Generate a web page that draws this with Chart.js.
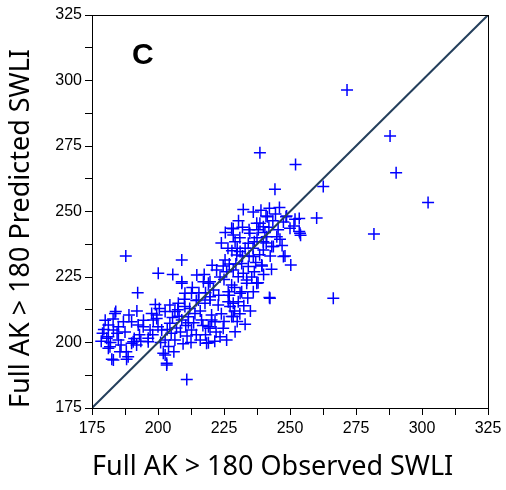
<!DOCTYPE html>
<html>
<head>
<meta charset="utf-8">
<script src="https://cdn.jsdelivr.net/npm/chart.js@4"></script>
<style>
    body { margin: 0; background: #fff; }
</style>
</head>
<body>
<canvas id="swliChart" width="506" height="490"></canvas>
<script>
    // observed / predicted SWLI pairs
    const observed = [
        187.8, 192.3, 184.0, 183.7, 181.2, 183.1, 186.9, 190.0, 192.5, 181.2,
        185.0, 181.8, 185.6, 182.5, 188.7, 190.0, 191.9, 180.6, 181.2, 183.1,
        188.1, 190.6, 194.4, 179.5, 180.0, 184.5, 186.0, 183.0, 187.5, 189.0,
        193.0, 191.0, 178.5, 179.0, 185.0, 182.0, 188.0, 193.5, 194.5, 192.0,
        196.3, 197.0, 198.2, 199.5, 202.7, 206.4, 204.5, 201.4, 202.7, 202.0,
        203.3, 210.9, 206.4, 209.0, 211.5, 214.0, 212.7, 210.2, 207.7, 212.7,
        210.2, 209.0, 200.1, 205.6, 209.0, 214.7, 196.3, 202.7, 203.3, 199.5,
        204.5, 209.0, 197.6,
        198.0, 200.0, 203.5, 205.0, 207.0, 208.0, 210.5, 211.0, 213.5, 214.5,
        200.5, 205.5, 207.5, 212.0, 214.5, 201.0, 204.0, 209.5, 212.5, 206.0,
        199.0, 210.0, 213.0, 208.5, 211.5,
        217.2, 219.7, 218.4, 216.5, 219.1, 217.8, 215.3, 219.7, 220.3, 228.5,
        229.2, 234.2, 225.4, 222.2, 229.8, 231.7, 234.2, 230.4, 233.6, 227.9,
        226.6, 231.7, 230.4, 226.6, 219.1, 219.7, 222.8, 227.3, 227.9, 220.3,
        221.6, 224.7, 219.7, 229.2, 223.5, 219.1, 227.9, 232.3, 228.5, 231.1,
        228.5, 232.3, 233.6, 231.1, 228.5, 228.5, 224.7,
        225.0, 226.0, 227.0, 228.0, 229.5, 230.0, 231.0, 232.0, 233.0, 234.5,
        226.5, 224.0, 225.5, 227.0, 229.0, 230.0, 231.0, 232.5, 234.0, 224.0,
        223.0, 221.0, 216.0, 218.0, 217.0, 222.0, 225.0, 226.0, 221.5, 233.0,
        235.0, 216.0, 218.0, 223.5, 220.5, 215.5, 217.5, 229.0, 232.0, 230.5,
        234.5,
        239.9, 245.0, 243.1, 239.3, 247.5, 237.4, 236.1, 242.4, 241.4, 238.6,
        248.7, 251.9, 253.8, 250.0, 248.1, 250.3, 242.2, 236.1, 242.2, 240.9,
        248.5, 253.5, 251.5, 253.5, 254.0, 247.5, 239.4, 237.9, 246.2, 243.7,
        239.9, 237.4, 234.8, 241.2, 239.9, 236.1, 244.3, 238.6, 252.1, 262.6,
        260.1,
        236.0, 237.5, 238.0, 240.5, 242.0, 243.5, 244.5, 245.5, 241.0, 242.5,
        236.5, 237.0, 238.5, 240.0, 235.5, 243.0, 236.5, 239.0, 246.0, 247.0,
        271.6, 287.9, 290.2, 302.3, 281.8, 266.4
    ];
    const predicted = [
        233.0, 219.0, 211.8, 211.1, 206.7, 204.8, 207.9, 207.9, 206.7, 202.2,
        201.0, 198.4, 196.5, 193.6, 194.6, 199.7, 199.0, 201.6, 197.8, 193.3,
        193.6, 200.3, 206.0, 205.0, 208.5, 203.5, 199.0, 209.0, 204.0, 210.5,
        203.0, 201.5, 200.5, 203.5, 206.0, 200.0, 196.5, 200.5, 208.5, 212.0,
        201.6, 204.8, 208.6, 210.5, 211.8, 211.8, 207.3, 204.8, 201.0, 195.9,
        192.1, 185.9, 201.0, 208.6, 209.8, 211.1, 204.8, 213.7, 215.0, 218.8,
        218.8, 231.5, 226.4, 226.0, 223.2, 225.8, 200.3, 195.2, 191.4, 209.2,
        214.3, 222.6, 211.1,
        203.0, 206.0, 205.0, 203.5, 205.5, 210.0, 206.5, 202.5, 207.5, 203.0,
        213.0, 209.5, 212.5, 213.0, 216.0, 200.0, 198.5, 199.5, 200.0, 196.5,
        214.5, 216.5, 221.0, 204.0, 207.5,
        223.2, 223.2, 199.7, 208.6, 206.0, 215.0, 216.2, 216.2, 208.6, 241.0,
        238.5, 237.9, 231.5, 227.7, 233.4, 230.2, 229.0, 225.1, 223.9, 221.9,
        219.4, 219.4, 215.6, 215.6, 222.6, 217.5, 214.3, 213.7, 209.9, 210.5,
        207.9, 205.4, 205.4, 204.1, 202.2, 199.9, 243.6, 250.8, 243.4, 234.7,
        227.7, 226.4, 222.6, 218.8, 215.0, 209.9, 229.2,
        224.0, 227.0, 230.0, 235.0, 230.0, 236.0, 240.0, 233.0, 236.0, 233.0,
        236.0, 238.0, 242.0, 218.0, 212.0, 208.0, 211.0, 214.0, 217.0, 211.0,
        218.0, 220.0, 212.0, 219.0, 206.5, 204.0, 208.0, 201.0, 200.5, 207.0,
        212.0, 201.0, 203.0, 225.0, 229.5, 219.0, 226.0, 221.0, 244.0, 246.5,
        243.0,
        238.5, 240.4, 236.6, 229.6, 232.8, 222.6, 219.4, 216.9, 248.0, 245.5,
        248.3, 247.0, 241.7, 243.6, 233.0, 229.6, 217.2, 249.8, 251.2, 248.3,
        248.0, 247.3, 244.5, 242.4, 240.9, 246.0, 229.2, 222.8, 239.4, 236.6,
        244.2, 245.5, 241.7, 240.4, 235.3, 232.8, 258.5, 272.4, 267.9, 259.5,
        247.5,
        236.0, 240.0, 243.0, 242.0, 244.0, 246.5, 249.0, 243.0, 238.0, 233.0,
        227.0, 230.5, 233.5, 226.0, 225.0, 228.0, 238.5, 250.5, 251.5, 237.0,
        296.4, 278.8, 264.8, 253.4, 241.4, 216.9
    ];
    const oneToOne = [175, 325];
    const tickValues = [175, 200, 225, 250, 275, 300, 325];
    const panelLabel = "C";

    const points = observed.map((v, i) => ({ x: v, y: predicted[i] }));
    const line = oneToOne.map(v => ({ x: v, y: v }));

    // box round the plot area and the panel letter
    const framePlugin = {
        id: 'frame',
        afterDraw(chart) {
            const { ctx, chartArea: a } = chart;
            ctx.save();
            ctx.strokeStyle = '#000';
            ctx.lineWidth = 1;
            ctx.strokeRect(a.left + 0.5, a.top + 0.5, a.right - a.left, a.bottom - a.top);
            ctx.fillStyle = '#000';
            ctx.font = 'bold 30px "Liberation Sans", Arial, sans-serif';
            ctx.textBaseline = 'alphabetic';
            ctx.fillText(panelLabel, a.left + 40, a.top + 49);
            ctx.restore();
        }
    };

    const tickFont = { family: '"Liberation Sans", Arial, sans-serif', size: 16 };
    const titleFont = { family: '"Noto Sans", sans-serif', size: 27 };

    function axis(title, isY) {
        return {
            type: 'linear',
            min: 175,
            max: 325,
            afterBuildTicks: s => { s.ticks = []; for (let v = 175; v <= 325; v += 12.5) s.ticks.push({ value: v }); },
            ticks: {
                autoSkip: false,
                maxRotation: 0,
                color: '#000',
                font: tickFont,
                padding: isY ? 3 : 4,
                callback: v => tickValues.includes(v) ? v : ''
            },
            grid: {
                display: true,
                drawOnChartArea: false,
                drawTicks: true,
                tickLength: 7,
                color: '#000',
                lineWidth: 1
            },
            border: { display: true, color: '#000', width: 1 },
            title: {
                display: true,
                text: title,
                align: 'start',
                color: '#000',
                font: titleFont,
                padding: { top: 5, bottom: 6 }
            },
            afterFit: s => { if (isY) s.width = 92; else s.height = 82; }
        };
    }

    new Chart(document.getElementById('swliChart').getContext('2d'), {
        type: 'scatter',
        data: {
            datasets: [
                {
                    type: 'line',
                    data: line,
                    borderColor: '#243f5c',
                    borderWidth: 2,
                    pointRadius: 0,
                    order: 0
                },
                {
                    data: points,
                    pointStyle: 'cross',
                    pointRadius: 6,
                    borderColor: '#0000ff',
                    backgroundColor: '#0000ff',
                    borderWidth: 1.5,
                    order: 1
                }
            ]
        },
        options: {
            responsive: false,
            animation: false,
            layout: { padding: { top: 15, right: 18, left: 0, bottom: 0 } },
            plugins: {
                legend: { display: false },
                tooltip: { enabled: false }
            },
            scales: {
                x: axis('Full AK > 180 Observed SWLI', false),
                y: axis('Full AK > 180 Predicted SWLI', true)
            }
        },
        plugins: [framePlugin]
    });
</script>
</body>
</html>
